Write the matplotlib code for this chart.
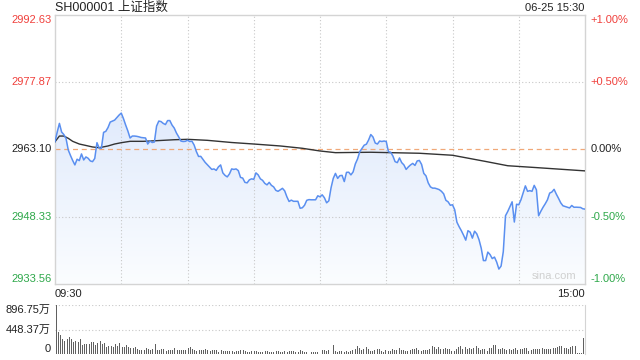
import numpy as np
import matplotlib
matplotlib.use("Agg")
import matplotlib.pyplot as plt
from matplotlib.colors import LinearSegmentedColormap

plt.rcParams['font.family'] = ['Liberation Sans', 'Noto Sans CJK SC', 'DejaVu Sans']

title = "SH000001 上证指数"
stamp = "06-25 15:30"
prev_close = 2963.10

price = [2964.81, 2966.93, 2968.83, 2966.93, 2966.38, 2965.51, 2962.99, 2961.79, 2960.69, 2959.71,
         2960.96, 2960.65, 2962.12, 2960.80, 2961.46, 2961.17, 2960.58, 2960.43, 2961.13, 2964.59,
         2963.43, 2963.36, 2966.86, 2967.08, 2967.91, 2969.12, 2969.34, 2969.55, 2970.10, 2970.65,
         2971.09, 2969.88, 2968.46, 2967.15, 2965.62, 2966.05, 2966.05, 2965.99, 2965.88, 2965.73,
         2965.68, 2965.62, 2964.30, 2964.96, 2964.63, 2964.74, 2968.24, 2969.34, 2969.23, 2968.83,
         2968.57, 2969.45, 2969.45, 2968.46, 2967.80, 2966.71, 2965.88, 2964.96, 2964.85, 2964.89,
         2965.13, 2964.85, 2964.92, 2964.08, 2962.66, 2961.57, 2961.59, 2960.91, 2960.26, 2959.75,
         2959.27, 2958.72, 2958.83, 2958.51, 2959.27, 2959.71, 2957.96, 2957.41, 2957.08, 2957.74,
         2958.83, 2958.72, 2958.83, 2958.46, 2956.97, 2956.82, 2955.88, 2955.77, 2956.43, 2956.65,
         2956.54, 2957.96, 2957.52, 2956.65, 2956.32, 2955.66, 2955.33, 2955.88, 2955.22, 2954.89,
         2954.13, 2953.91, 2954.24, 2954.57, 2954.02, 2952.71, 2951.68, 2951.98, 2951.72, 2951.72,
         2951.72, 2950.19, 2950.30, 2950.85, 2951.94, 2952.09, 2952.05, 2952.05, 2952.05, 2952.93,
         2952.71, 2953.14, 2952.49, 2951.39, 2951.83, 2954.68, 2956.75, 2957.85, 2956.75, 2957.35,
         2957.41, 2956.05, 2958.07, 2958.11, 2957.52, 2958.18, 2959.93, 2961.02, 2962.60, 2963.32,
         2964.04, 2964.26, 2965.18, 2966.38, 2965.84, 2964.52, 2964.30, 2964.96, 2964.85, 2964.96,
         2964.85, 2962.60, 2962.49, 2961.68, 2960.43, 2960.21, 2961.24, 2960.21, 2959.71, 2958.72,
         2959.27, 2959.71, 2960.04, 2959.60, 2960.58, 2960.69, 2959.82, 2957.85, 2957.30, 2955.77,
         2954.89, 2954.61, 2954.61, 2954.46, 2954.28, 2953.91, 2953.36, 2951.94, 2951.61, 2950.85,
         2950.96, 2949.86, 2947.13, 2946.14, 2945.27, 2944.28, 2943.19, 2945.27, 2944.94, 2943.63,
         2945.16, 2944.57, 2943.30, 2941.44, 2938.70, 2938.70, 2940.56, 2940.02, 2939.14, 2939.47,
         2938.38, 2936.84, 2937.50, 2940.67, 2948.55, 2949.47, 2950.52, 2951.61, 2947.17, 2951.07,
         2950.96, 2952.05, 2953.58, 2955.11, 2953.91, 2954.06, 2953.91, 2955.22, 2954.24, 2948.55,
         2949.53, 2950.41, 2951.18, 2952.05, 2953.52, 2953.76, 2954.35, 2953.30, 2952.38, 2951.39,
         2950.74, 2950.58, 2950.41, 2950.26, 2950.80, 2950.41, 2950.43, 2950.41, 2950.37, 2950.08,
         2950.00]

avg_min = [0, 2, 4, 6, 8, 11, 14, 17, 20, 24, 27, 30, 34, 40, 46, 54, 60, 69, 80, 90,
           102, 112, 120, 127, 143, 165, 180, 195, 205, 218, 240]
avg_val = [2964.81, 2966.05, 2966.05, 2965.55, 2964.89, 2964.30, 2963.98, 2963.65, 2963.49, 2963.87,
           2964.30, 2964.59, 2964.89, 2964.89, 2965.03, 2965.24, 2965.33, 2965.11, 2964.63, 2964.30,
           2963.87, 2963.36, 2962.77, 2962.40, 2962.49, 2962.27, 2961.83, 2960.47, 2959.53, 2959.12,
           2958.40]

volume = [896.75, 409, 348, 275, 244, 268, 311, 281, 226, 244,
          220, 275, 171, 177, 189, 183, 220, 220, 165, 201,
          238, 189, 207, 134, 153, 153, 134, 183, 146, 201,
          134, 134, 171, 122, 110, 104, 122, 85, 79, 79,
          79, 110, 98, 79, 92, 189, 73, 73, 92, 92,
          61, 73, 73, 79, 110, 73, 67, 73, 73, 73,
          116, 128, 85, 73, 61, 73, 67, 73, 92, 73,
          61, 73, 79, 79, 43, 67, 61, 55, 55, 55,
          61, 43, 55, 55, 67, 73, 55, 43, 43, 49,
          55, 61, 43, 37, 43, 61, 55, 43, 37, 43,
          55, 55, 37, 43, 55, 37, 55, 49, 55, 37,
          37, 73, 49, 43, 31, 49, 37, 31, 37, 31,
          201,
          73, 73, 61, 73, 61, 165, 61, 43, 55, 55,
          43, 55, 43, 55, 73, 85, 146, 104, 73, 92,
          128, 92, 61, 61, 67, 92, 85, 49, 43, 73,
          61, 55, 85, 67, 73, 116, 73, 67, 61, 55,
          73, 92, 92, 110, 73, 55, 73, 79, 73, 85,
          146, 128, 92, 122, 98, 85, 116, 85, 85, 61,
          61, 85, 128, 153, 92, 122, 85, 104, 92, 104,
          153, 104, 73, 92, 98, 61, 116, 116, 171, 171,
          98, 85, 104, 92, 73, 92, 73, 85, 110, 73,
          85, 85, 116, 116, 61, 73, 85, 85, 92, 92,
          110, 85, 85, 85, 98, 104, 104, 134, 146, 146,
          110, 104, 98, 134, 146, 140, 12, 12, 12, 293]

price_ticks = [2992.63, 2977.87, 2963.10, 2948.33, 2933.56]
pct_labels = ["+1.00%", "+0.50%", "0.00%", "-0.50%", "-1.00%"]
vol_ticks = [896.75, 448.37, 0]
vol_labels = ["896.75万", "448.37万", "0"]
time_labels = ["09:30", "15:00"]

RED = "#f0403c"
GREEN = "#2ea84a"
GRID = "#c8c8c8"
BORDER = "#d4d4d4"
LINE = "#5a8ff0"

fig = plt.figure(figsize=(6.4, 3.6), dpi=100)
W, H = 640, 360
def rect(l, t, r, b):
    return [l / W, 1 - b / H, (r - l) / W, (b - t) / H]

ax = fig.add_axes(rect(55, 15, 585, 284))
axv = fig.add_axes(rect(55, 305, 585, 354))

n = len(price)
x = np.arange(n)
nmax = n - 1
ymin, ymax = price_ticks[-1], price_ticks[0]

ax.set_xlim(0, nmax)
ax.set_ylim(ymin, ymax)

# gradient fill under price line
poly = ax.fill_between(x, price, ymin, color='none', lw=0)
cmap = LinearSegmentedColormap.from_list("g", ["#fbfdff", "#d2e0fa"])
grad = np.linspace(0, 1, 256).reshape(-1, 1)
im = ax.imshow(grad, extent=[0, nmax, ymin, ymax], origin='lower', aspect='auto',
               cmap=cmap, zorder=1, interpolation='bilinear')
im.set_clip_path(poly.get_paths()[0], transform=ax.transData)

# grid
for gx in range(30, nmax, 30):
    ax.axvline(gx, color=GRID, lw=0.8, ls=(0, (1, 2)), zorder=2)
for gy in (price_ticks[1], price_ticks[3]):
    ax.axhline(gy, color=GRID, lw=0.8, ls=(0, (1, 2)), zorder=2)
ax.axhline(prev_close, color="#f0a878", lw=0.9, ls=(0, (4, 3)), zorder=2)

ax.plot(x, price, color=LINE, lw=1.1, zorder=4)
ax.plot(avg_min, avg_val, color="#333333", lw=1.0, zorder=3)

ax.set_xticks([]); ax.set_yticks([])
for s in ax.spines.values():
    s.set_color(BORDER); s.set_linewidth(1.0)

# price labels
fs = 8
cols = [RED, RED, "#222222", GREEN, GREEN]
vas = ['top', 'center', 'center', 'center', 'bottom']
for v, lab, c, va in zip(price_ticks, pct_labels, cols, vas):
    ax.text(-0.006, v, f"{v:.2f}", transform=ax.get_yaxis_transform(), ha='right', va=va,
            color=c, fontsize=fs)
    ax.text(1.01, v, lab, transform=ax.get_yaxis_transform(), ha='left', va=va,
            color=c, fontsize=fs)

ax.text(0.0, 1.027, title, transform=ax.transAxes, ha='left', va='center', fontsize=9, color="#222222")
ax.text(0.998, 1.026, stamp, transform=ax.transAxes, ha='right', va='center', fontsize=8, color="#222222")
ax.text(0.0, -0.02, time_labels[0], transform=ax.transAxes, ha='left', va='top', fontsize=fs, color="#222222")
ax.text(1.0, -0.02, time_labels[1], transform=ax.transAxes, ha='right', va='top', fontsize=fs, color="#222222")
ax.text(0.983, 0.01, "sina.com", transform=ax.transAxes, ha='right', va='bottom', fontsize=8, color="#d0d0d0")

# volume
axv.set_xlim(0 - 0.5, nmax + 0.5)
axv.set_ylim(0, vol_ticks[0])
axv.bar(np.arange(len(volume)), volume, width=0.45, color="#606060", zorder=3)
for gy in vol_ticks[:2]:
    axv.axhline(gy, color=GRID, lw=0.8, ls=(0, (1, 2)), zorder=1)
axv.set_xticks([]); axv.set_yticks([])
for k, s in axv.spines.items():
    s.set_visible(k == 'right')
    s.set_color(BORDER)
vvas = ['top', 'center', 'bottom']
for v, lab, va in zip(vol_ticks, vol_labels, vvas):
    axv.text(-0.008, v, lab, transform=axv.get_yaxis_transform(), ha='right', va=va,
             color="#222222", fontsize=fs)

fig.savefig("out.png", dpi=100)
